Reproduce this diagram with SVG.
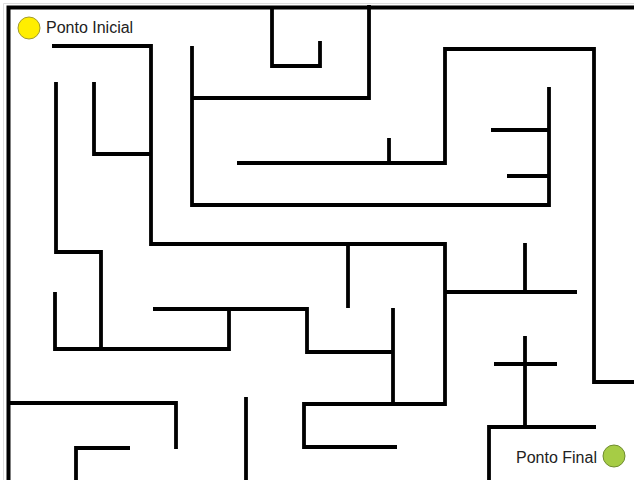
<svg xmlns="http://www.w3.org/2000/svg" width="634" height="480" viewBox="0 0 634 480">
  <style>
    .wall { fill: none; stroke: #000; stroke-width: 3.8; stroke-linejoin: miter; stroke-linecap: butt; }
    .border { fill: none; stroke: #000; stroke-width: 4; stroke-linecap: butt; }
    .lbl { font-family: "Liberation Sans", Arial, sans-serif; font-size: 16px; fill: #222; }
  </style>
  <rect x="0" y="0" width="634" height="480" fill="#fff"/>
  <polyline points="634,3.5 3.5,3.5 3.5,480" fill="none" stroke="#ddd" stroke-width="1"/>
  <g id="walls">
    <polyline class="border" points="634,7.5 8.5,7.5 8.5,480"/>
    <polyline class="wall" points="52,46 151,46 151,244 445,244 445,404 304,404 304,447 397,447"/>
    <polyline class="wall" points="56,82 56,252 101,252 101,349"/>
    <polyline class="wall" points="55,292 55,349 229,349 229,309"/>
    <polyline class="wall" points="153,309 307,309 307,352 393,352"/>
    <polyline class="wall" points="393,308 393,404"/>
    <polyline class="wall" points="94,82 94,154 151,154"/>
    <polyline class="wall" points="192,46 192,205 549,205 549,87"/>
    <polyline class="wall" points="192,98 369,98 369,5"/>
    <polyline class="wall" points="272,7 272,66 320,66 320,41"/>
    <polyline class="wall" points="237,163 445,163 445,49 594,49 594,382 634,382"/>
    <polyline class="wall" points="389,138 389,163"/>
    <polyline class="wall" points="491,130 549,130"/>
    <polyline class="wall" points="507,176 549,176"/>
    <polyline class="wall" points="348,244 348,308"/>
    <polyline class="wall" points="445,292 577,292"/>
    <polyline class="wall" points="525,243 525,292"/>
    <polyline class="wall" points="525,336 525,427"/>
    <polyline class="wall" points="494,364 557,364"/>
    <polyline class="wall" points="489,480 489,427 596,427"/>
    <polyline class="wall" points="8,403 176,403 176,449"/>
    <polyline class="wall" points="76,480 76,448 130,448"/>
    <polyline class="wall" points="246,397 246,480"/>
  </g>
  <g id="start">
    <circle cx="29" cy="28" r="11" fill="#ffee00" stroke="#a09a30" stroke-width="1"/>
    <text class="lbl" x="46" y="33">Ponto Inicial</text>
  </g>
  <g id="end">
    <text class="lbl" x="516" y="463">Ponto Final</text>
    <circle cx="614" cy="456" r="11" fill="#a6cc45" stroke="#6f8c30" stroke-width="1"/>
  </g>
</svg>
